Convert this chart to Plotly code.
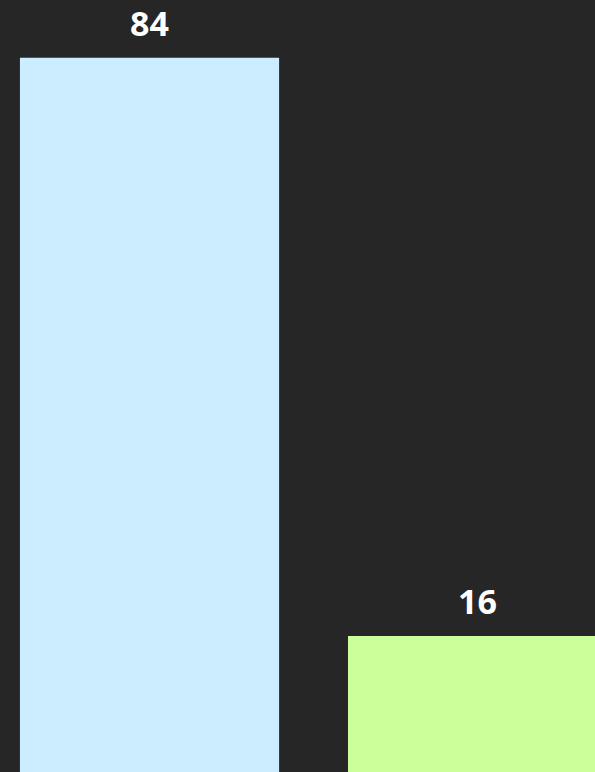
import plotly.graph_objects as go

categories = ["A", "B"]
values = [84, 16]
colors = ["#CCECFF", "#CCFF99"]

fig = go.Figure()
fig.add_trace(go.Bar(
    x=[0, 1], y=values, width=0.79,
    marker=dict(color=colors, line=dict(width=0)),
    hoverinfo="skip",
))
for i, v in enumerate(values):
    fig.add_annotation(x=i, y=v, text=f"<b>{v}</b>", showarrow=False,
                       yanchor="bottom", yshift=11, borderpad=0,
                       font=dict(family="Open Sans", size=34, color="#FFFFFF"))

fig.update_layout(
    width=595, height=772,
    margin=dict(l=0, r=0, t=0, b=0),
    paper_bgcolor="#262626", plot_bgcolor="#262626",
    showlegend=False,
    xaxis=dict(range=[-0.4558, 1.358], visible=False, fixedrange=True),
    yaxis=dict(range=[0, 90.8], visible=False, fixedrange=True),
)
fig.write_html("out.html", config={"displayModeBar": False},
               post_script="document.body.style.margin='0';document.body.style.overflow='hidden';document.body.style.background='#262626';")
